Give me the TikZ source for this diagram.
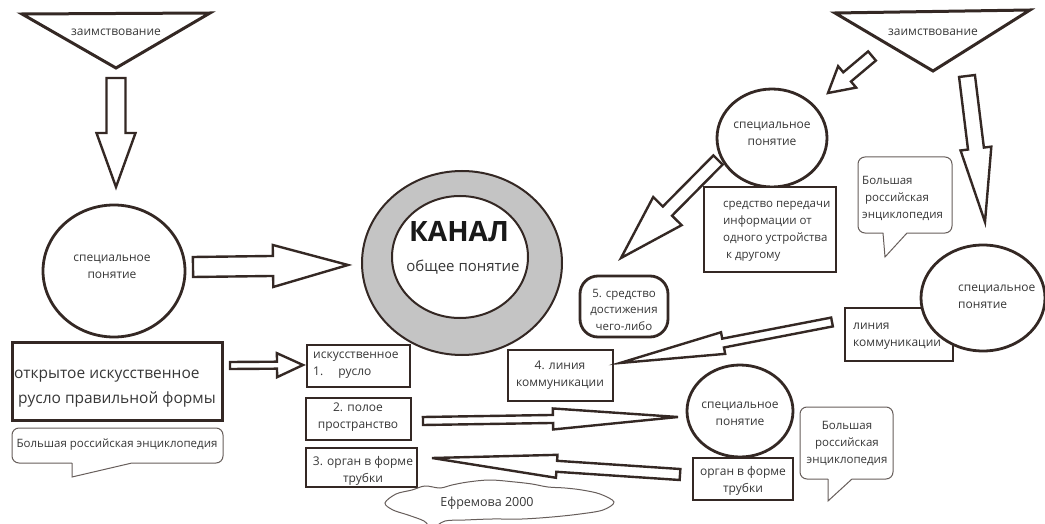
\documentclass[tikz,border=0pt]{standalone}
\usepackage{fontspec}
\setmainfont{Open Sans}
\usetikzlibrary{calc,shapes.geometric}

\definecolor{ink}{RGB}{52,40,36}
\definecolor{txt}{RGB}{55,55,55}
\definecolor{ringfill}{RGB}{196,196,196}

% hollow block arrow: tail, tip, shaft half width, head half width, head length
\newcommand\blockarrow[5]{%
  \coordinate (ba-base) at ($(#2)!#5pt!(#1)$);
  \draw[arrowline] ($(#1)!#3pt!90:(#2)$) -- ($(ba-base)!#3pt!90:(#2)$)
    -- ($(ba-base)!#4pt!90:(#2)$) -- (#2) -- ($(ba-base)!#4pt!-90:(#2)$)
    -- ($(ba-base)!#3pt!-90:(#2)$) -- ($(#1)!#3pt!-90:(#2)$) -- cycle;}

\tikzset{
  outline/.style={draw=ink, line width=2.8pt},
  arrowline/.style={draw=ink, line width=2.4pt, fill=white, line join=miter},
  oval/.style={ellipse, outline, fill=white, inner sep=0pt},
  frame/.style={rectangle, outline, fill=white, inner sep=0pt},
  lbl/.style={text=txt, inner sep=0pt, align=center, font={\fontsize{12}{17}\selectfont}},
  lbls/.style={lbl, font={\fontsize{11.5}{17}\selectfont}},
  bubble/.style={draw=ink!75, line width=1pt, fill=white},
}

\begin{document}
\begin{tikzpicture}[x=1pt, y=-1pt]
\useasboundingbox (0,0) rectangle (1045,524);

% ---------- left branch ----------
\coordinate (t1a) at (22,14);
\coordinate (t1b) at (210,13);
\coordinate (t1c) at (116,68);
\draw[outline, line width=3pt, line join=miter] (t1a) -- (t1b) -- (t1c) -- cycle;
\node[lbl] (borrowL) at (116,32) {заимствование};

\node[oval, minimum width=142pt, minimum height=132pt] (specL) at (114,271) {};
\node[lbl] at (112,266.5) {специальное\\понятие};

\node[frame, line width=3pt, minimum width=210pt, minimum height=78pt] (openbox) at (117,381) {};
\node[lbl, align=left, font={\fontsize{15.5}{25}\selectfont}, anchor=west] at (14,389) {открытое искусственное\\\ русло правильной формы};

\draw[bubble] (72,463) -- (72,477) -- (132,463) [rounded corners=7pt] -- (223,463) -- (223,428) -- (12,428) -- (12,463) -- (72,463);
\node[lbls] (bre1) at (117,445) {Большая российская энциклопедия};

% ---------- centre ----------
\node[ellipse, draw=ink, line width=2pt, fill=ringfill, minimum width=200pt, minimum height=184pt, inner sep=0pt] (ringout) at (462,263) {};
\node[ellipse, draw=ink, line width=2pt, fill=white, minimum width=136pt, minimum height=122pt, inner sep=0pt] (ringin) at (460,257) {};
\node[text=black!90, inner sep=0pt, font={\fontsize{28}{30}\selectfont\bfseries}] (kanal) at (459,232) {КАНАЛ};
\node[lbl, font={\fontsize{15}{18}\selectfont}] (general) at (463,267) {общее понятие};

\node[frame, minimum width=103pt, minimum height=42pt] (m1) at (358.5,366) {};
\node[lbl, align=left, anchor=west] at (313,365.5) {искусственное\\1.\hspace{15pt}русло};
\node[frame, minimum width=105pt, minimum height=42pt] (m2) at (358.5,419) {};
\node[lbl] at (358,417.5) {2. полое\\пространство};
\node[frame, minimum width=111pt, minimum height=39pt] (m3) at (361.5,467.5) {};
\node[lbl] at (363,470.5) {3. орган в форме\\трубки};
\node[frame, minimum width=105pt, minimum height=51pt] (m4) at (560.5,375.5) {};
\node[lbl] at (560,375.5) {4. линия\\коммуникации};
\node[frame, rounded corners=18pt, minimum width=88pt, minimum height=61pt] (m5) at (624,306.5) {};
\node[lbl, font={\fontsize{11.5}{16.5}\selectfont}] at (624,309.5) {5. средство\\достижения\\чего-либо};

% cloud with the source reference
\draw[bubble] plot[smooth cycle, tension=0.55] coordinates {
  (385,503) (396,494) (412,490) (425,486) (440,488) (452,485) (468,482)
  (490,480) (515,482) (532,484) (548,487) (565,488) (582,490) (600,494)
  (614,502) (603,510) (580,514) (552,517) (522,519) (492,519) (465,520)
  (445,521) (432,528) (424,521) (408,515) (393,510)};
\node[lbl, font={\fontsize{12.5}{15}\selectfont}] (efr) at (487,503) {Ефремова 2000};

% ---------- right branch ----------
\coordinate (t2a) at (835,13);
\coordinate (t2b) at (1030,10);
\coordinate (t2c) at (933,71);
\draw[outline, line width=3pt, line join=miter] (t2a) -- (t2b) -- (t2c) -- cycle;
\node[lbl] (borrowR) at (933,32) {заимствование};

\node[oval, minimum width=110pt, minimum height=98pt] (specT) at (772,138) {};
\node[lbl] at (772,134) {специальное\\понятие};
\node[frame, minimum width=132pt, minimum height=85pt] (transfer) at (770,229.5) {};
\node[lbls, align=left, anchor=west] at (723,231.5) {средство передачи\\информации от\\одного устройства\\\ к другому};

\draw[bubble] (883,233) -- (885,257) -- (907,233) [rounded corners=7pt] -- (952,233) -- (952,157) -- (858,157) -- (858,233) -- (883,233);
\node[lbls, align=left, anchor=west] (bre2) at (862,198.5) {Большая\\\ российская\\энциклопедия};

\node[frame, minimum width=108pt, minimum height=53pt] (line) at (899,334.5) {};
\node[lbl, align=left, anchor=west] at (853,336) {линия\\коммуникации};
\node[oval, minimum width=124pt, minimum height=106pt] (specR) at (983,298) {};
\node[lbl, align=left, anchor=west] at (958,296.5) {специальное\\понятие};

\node[oval, minimum width=106pt, minimum height=92pt] (specB) at (740,411) {};
\node[lbl] at (740,413.5) {специальное\\понятие};
\node[frame, minimum width=100pt, minimum height=42pt] (organ) at (743,479) {};
\node[lbl] at (743,481) {орган в форме\\трубки};

\draw[bubble] (828,479) -- (828,501) -- (852,479) [rounded corners=7pt] -- (893,479) -- (893,407) -- (800,407) -- (800,479) -- (828,479);
\node[lbls] (bre3) at (847,443.5) {Большая\\российская\\энциклопедия};

% ---------- block arrows ----------
\coordinate (a1s) at (116,78);   \coordinate (a1e) at (116,187);
\coordinate (a2s) at (193,267);  \coordinate (a2e) at (348,265);
\coordinate (a3s) at (230,365.5);\coordinate (a3e) at (303,365);
\coordinate (a4s) at (423,421);  \coordinate (a4e) at (678,417);
\coordinate (a5s) at (680,474.5);\coordinate (a5e) at (432,458);
\coordinate (a6s) at (832,322);  \coordinate (a6e) at (620,363);
\coordinate (a7s) at (967,76);   \coordinate (a7e) at (985,222);
\coordinate (a8s) at (872,56);   \coordinate (a8e) at (828,93);
\coordinate (a9s) at (718,160);  \coordinate (a9e) at (621,258);

\blockarrow{a1s}{a1e}{9.5}{19.5}{54}
\blockarrow{a2s}{a2e}{10}{21}{75}
\blockarrow{a3s}{a3e}{3.5}{12}{26}
\blockarrow{a4s}{a4e}{4}{10.5}{125}
\blockarrow{a5s}{a5e}{5.5}{11.5}{125}
\blockarrow{a6s}{a6e}{4.5}{11}{105}
\blockarrow{a7s}{a7e}{8}{15.5}{74}
\blockarrow{a8s}{a8e}{6}{14}{25}
\blockarrow{a9s}{a9e}{6.5}{20}{66}
\end{tikzpicture}
\end{document}
